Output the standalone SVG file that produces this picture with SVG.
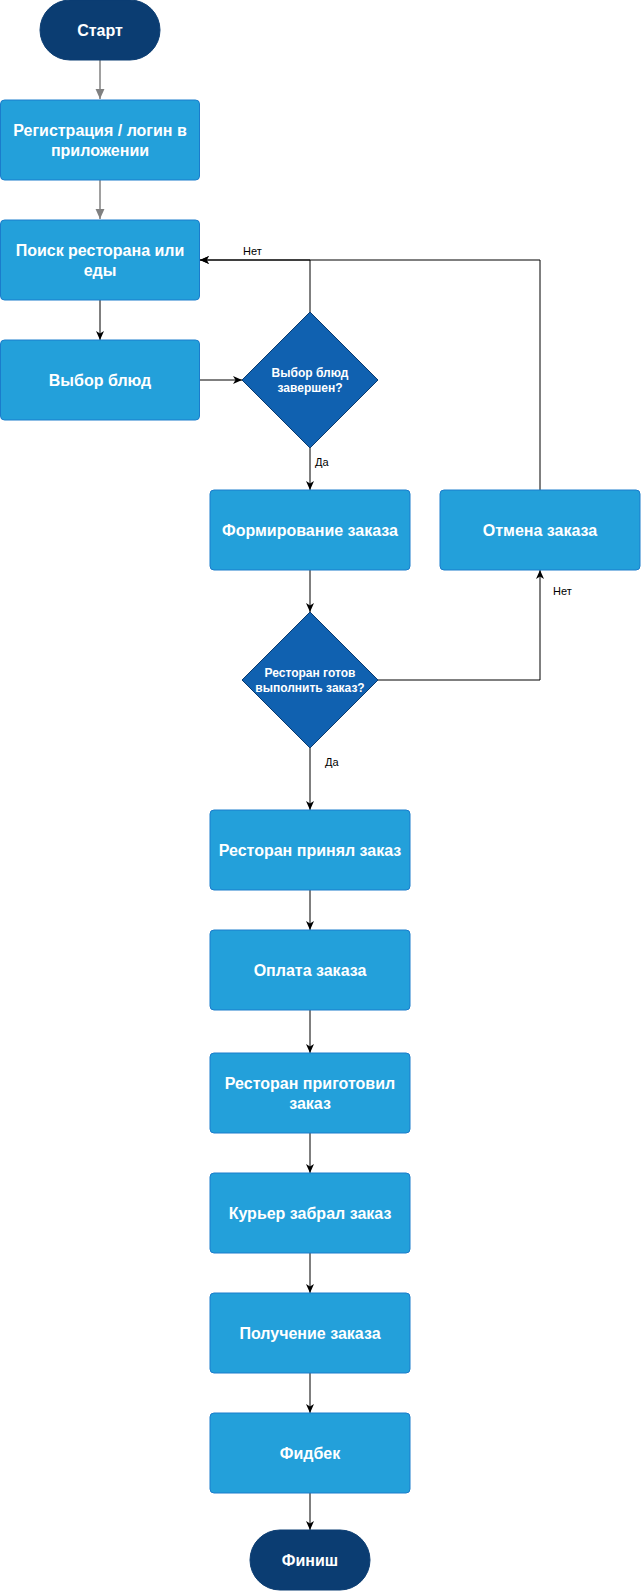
<svg xmlns="http://www.w3.org/2000/svg" width="641" height="1591" viewBox="0 0 641 1591">
<style>
.box{fill:#23a0da;stroke:#1a7ccc;stroke-width:1}
.dia{fill:#1061b0;stroke:#0a3a6e;stroke-width:1}
.term{fill:#0b3d72;stroke:#0b3d72;stroke-width:1}
.t{font-family:"Liberation Sans",Arial,sans-serif;font-weight:bold;fill:#ffffff;text-anchor:middle;font-size:16px}
.td{font-family:"Liberation Sans",Arial,sans-serif;font-weight:bold;fill:#ffffff;text-anchor:middle;font-size:12px}
.c{fill:none;stroke:#000000;stroke-width:1}
.g{fill:none;stroke:#808080;stroke-width:1.5}
.lbl{font-family:"Liberation Sans",Arial,sans-serif;font-size:11px;fill:#000000}
</style>
<defs>
<marker id="ab" viewBox="0 0 9 9" refX="9" refY="4.5" markerWidth="9" markerHeight="9" markerUnits="userSpaceOnUse" orient="auto">
<path d="M0,0.5 L9,4.5 L0,8.5 L2.5,4.5 z" fill="#000000"/>
</marker>
<marker id="ag" viewBox="0 0 9 9" refX="9" refY="4.5" markerWidth="10" markerHeight="10" markerUnits="userSpaceOnUse" orient="auto">
<path d="M0,0.5 L9,4.5 L0,8.5 z" fill="#808080"/>
</marker>
</defs>
<rect width="641" height="1591" fill="#ffffff"/>
<g id="connectors">
<path class="g" d="M100,60 L100,99" marker-end="url(#ag)"/>
<path class="g" d="M100,180 L100,219" marker-end="url(#ag)"/>
<path class="c" d="M100,300 L100,340" marker-end="url(#ab)"/>
<path class="c" d="M200,380 L242,380" marker-end="url(#ab)"/>
<path class="c" d="M310,312 L310,260 L200,260" marker-end="url(#ab)"/>
<path class="c" d="M540,490 L540,260 L200,260" marker-end="url(#ab)"/>
<path class="c" d="M310,448 L310,490" marker-end="url(#ab)"/>
<path class="c" d="M310,570 L310,612" marker-end="url(#ab)"/>
<path class="c" d="M378,680 L540,680 L540,570" marker-end="url(#ab)"/>
<path class="c" d="M310,748 L310,810" marker-end="url(#ab)"/>
<path class="c" d="M310,890 L310,930" marker-end="url(#ab)"/>
<path class="c" d="M310,1010 L310,1053" marker-end="url(#ab)"/>
<path class="c" d="M310,1133 L310,1173" marker-end="url(#ab)"/>
<path class="c" d="M310,1253 L310,1293" marker-end="url(#ab)"/>
<path class="c" d="M310,1373 L310,1413" marker-end="url(#ab)"/>
<path class="c" d="M310,1493 L310,1530" marker-end="url(#ab)"/>
<text class="lbl" x="243" y="255">Нет</text>
<text class="lbl" x="315" y="466">Да</text>
<text class="lbl" x="553" y="595">Нет</text>
<text class="lbl" x="325" y="766">Да</text>
</g>
<g id="start">
<rect class="term" x="40" y="0" width="120" height="60" rx="30" ry="30"/>
<text class="t" x="100" y="36">Старт</text>
</g>
<g id="register">
<rect class="box" x="0.5" y="100" width="199" height="80" rx="4"/>
<text class="t" x="100" y="136">Регистрация / логин в</text>
<text class="t" x="100" y="156">приложении</text>
</g>
<g id="search">
<rect class="box" x="0.5" y="220" width="199" height="80" rx="4"/>
<text class="t" x="100" y="256">Поиск ресторана или</text>
<text class="t" x="100" y="276">еды</text>
</g>
<g id="choose">
<rect class="box" x="0.5" y="340" width="199" height="80" rx="4"/>
<text class="t" x="100" y="386">Выбор блюд</text>
</g>
<g id="decision1">
<path class="dia" d="M310,312 L378,380 L310,448 L242,380 Z" stroke-linejoin="round"/>
<text class="td" x="310" y="377">Выбор блюд</text>
<text class="td" x="310" y="392">завершен?</text>
</g>
<g id="form">
<rect class="box" x="210" y="490" width="200" height="80" rx="4"/>
<text class="t" x="310" y="536">Формирование заказа</text>
</g>
<g id="cancel">
<rect class="box" x="440" y="490" width="200" height="80" rx="4"/>
<text class="t" x="540" y="536">Отмена заказа</text>
</g>
<g id="decision2">
<path class="dia" d="M310,612 L378,680 L310,748 L242,680 Z" stroke-linejoin="round"/>
<text class="td" x="310" y="677">Ресторан готов</text>
<text class="td" x="310" y="692">выполнить заказ?</text>
</g>
<g id="accepted">
<rect class="box" x="210" y="810" width="200" height="80" rx="4"/>
<text class="t" x="310" y="856">Ресторан принял заказ</text>
</g>
<g id="payment">
<rect class="box" x="210" y="930" width="200" height="80" rx="4"/>
<text class="t" x="310" y="976">Оплата заказа</text>
</g>
<g id="cooked">
<rect class="box" x="210" y="1053" width="200" height="80" rx="4"/>
<text class="t" x="310" y="1089">Ресторан приготовил</text>
<text class="t" x="310" y="1109">заказ</text>
</g>
<g id="courier">
<rect class="box" x="210" y="1173" width="200" height="80" rx="4"/>
<text class="t" x="310" y="1219">Курьер забрал заказ</text>
</g>
<g id="receive">
<rect class="box" x="210" y="1293" width="200" height="80" rx="4"/>
<text class="t" x="310" y="1339">Получение заказа</text>
</g>
<g id="feedback">
<rect class="box" x="210" y="1413" width="200" height="80" rx="4"/>
<text class="t" x="310" y="1459">Фидбек</text>
</g>
<g id="finish">
<rect class="term" x="250" y="1530" width="120" height="60" rx="30" ry="30"/>
<text class="t" x="310" y="1566">Финиш</text>
</g>
</svg>
